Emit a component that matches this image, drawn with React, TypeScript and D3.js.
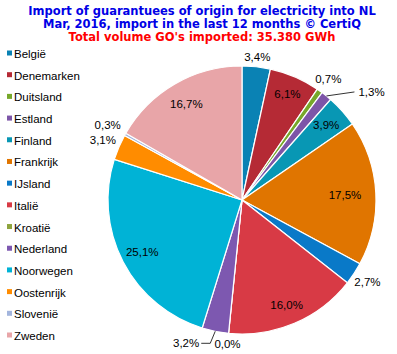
import { useRef, useEffect } from "react";
import * as d3 from "d3";

const countries = [
  "België", "Denemarken", "Duitsland", "Estland", "Finland", "Frankrijk", "IJsland",
  "Italië", "Kroatië", "Nederland", "Noorwegen", "Oostenrijk", "Slovenië", "Zweden",
];
const shares = [3.4, 6.1, 0.7, 1.3, 3.9, 17.5, 2.7, 16.0, 0.0, 3.2, 25.1, 3.1, 0.3, 16.7];
const colors = [
  "#0a82b4", "#b52a35", "#77a82a", "#7d55a8", "#0897b4", "#e07500", "#0979c8",
  "#d83a45", "#8ea43e", "#7d58b0", "#00b3d6", "#ff8c00", "#a3b5dd", "#e8a5a8",
];
const titleLines = [
  "Import of guarantuees of origin for electricity into NL",
  "Mar, 2016, import in the last 12 months © CertiQ",
];
const subtitle = "Total volume GO's imported: 35.380 GWh";

// label placement: inside / outside / with leader line, and radius factor for each
const placement = ["out", "in", "out", "lead", "in", "in", "out", "in", "out", "lead", "in", "out", "out", "in"];
const labelK = [1.07, 0.86, 1.11, 1, 0.84, 0.77, 1.12, 0.85, 1.08, 1, 0.84, 1.13, 1.15, 0.83];

export default function App() {
  const svgRef = useRef<SVGSVGElement>(null);

  useEffect(() => {
    if (!svgRef.current) return;
    const width = 397;
    const height = 354;
    const svg = d3.select(svgRef.current);
    svg.selectAll("*").remove();
    svg.attr("width", width).attr("height", height);

    svg.append("rect").attr("width", width).attr("height", height).attr("fill", "#fff");

    // Title
    const title = svg.append("g")
      .style("font-family", "'DejaVu Sans', Verdana, sans-serif")
      .style("font-weight", "bold")
      .style("font-size", "11.5px")
      .attr("text-anchor", "middle");
    titleLines.forEach((t, i) => {
      title.append("text").attr("x", 202).attr("y", 15 + i * 13).attr("fill", "#0000e6").text(t);
    });
    title.append("text").attr("x", 202).attr("y", 41).attr("fill", "#ff0000").text(subtitle);

    // Legend
    const legend = svg.append("g")
      .style("font-family", "'Liberation Sans', Arial, sans-serif")
      .style("font-size", "11.5px");
    const ly = d3.scaleLinear().domain([0, countries.length - 1]).range([54, 336]);
    countries.forEach((c, i) => {
      legend.append("rect").attr("x", 7).attr("y", ly(i) - 3.5).attr("width", 5).attr("height", 5)
        .attr("fill", colors[i]);
      legend.append("text").attr("x", 14).attr("y", ly(i)).attr("dy", "0.35em").attr("fill", "#000").text(c);
    });

    // Pie
    const cx = 242;
    const cy = 200;
    const r = 134;
    const pie = d3.pie<number>().sort(null).value((d) => d);
    const arcs = pie(shares);
    const arc = d3.arc<d3.PieArcDatum<number>>().innerRadius(0).outerRadius(r);
    const g = svg.append("g").attr("transform", `translate(${cx},${cy})`);

    g.selectAll("path")
      .data(arcs)
      .join("path")
      .attr("d", arc)
      .attr("fill", (_, i) => colors[i])
      .attr("stroke", "#fff")
      .attr("stroke-width", 1.2);

    const fmt = (v: number) => d3.format(".1f")(v).replace(".", ",") + "%";
    const polar = (a: number, rad: number): [number, number] => [Math.sin(a) * rad, -Math.cos(a) * rad];

    const labels = g.append("g")
      .style("font-family", "'Liberation Sans', Arial, sans-serif")
      .style("font-size", "11.5px")
      .attr("text-anchor", "middle");

    arcs.forEach((d, i) => {
      const mid = (d.startAngle + d.endAngle) / 2;
      const mode = placement[i];
      if (mode !== "lead") {
        const [x, y] = polar(mid, r * labelK[i]);
        labels.append("text").attr("x", x).attr("y", y).attr("dy", "0.35em").text(fmt(shares[i]));
      } else {
        const [ex, ey] = polar(mid, r);
        const right = mid < Math.PI;
        const [bx, by] = right ? [ex + 28, ey - 4] : [ex - 5, ey + 12];
        const endX = right ? bx : bx - 9;
        g.append("path")
          .attr("d", `M${ex},${ey}L${bx},${by}L${endX},${by}`)
          .attr("fill", "none")
          .attr("stroke", "#000")
          .attr("stroke-width", 0.8);
        labels.append("text")
          .attr("x", right ? bx + 4 : endX - 2)
          .attr("y", by)
          .attr("dy", "0.35em")
          .attr("text-anchor", right ? "start" : "end")
          .text(fmt(shares[i]));
      }
    });
  }, []);

  return <svg ref={svgRef} style={{ position: "absolute", left: 0, top: 0 }} />;
}
